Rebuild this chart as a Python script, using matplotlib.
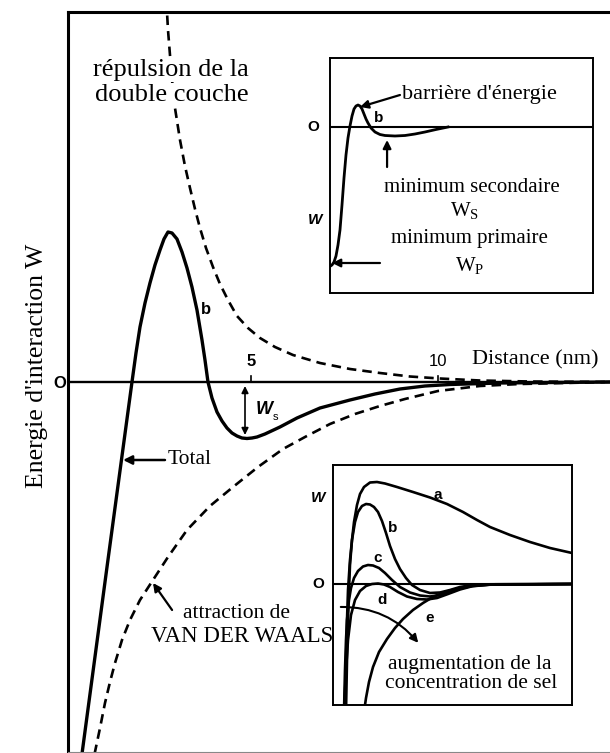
import matplotlib
matplotlib.use('Agg')
import matplotlib.pyplot as plt
from matplotlib.patches import FancyArrowPatch

SERIF = 'Liberation Serif'
SANS = 'Liberation Sans'

# Main chart: distance in nm, energy in arbitrary units
total_x = [0.47, 1.150, 1.818, 1.925, 2.032, 2.166, 2.299, 2.433, 2.567, 2.674, 2.781, 2.888,
           3.021, 3.155, 3.289, 3.422, 3.556, 3.690, 3.770, 3.850, 3.957, 4.091, 4.225, 4.358,
           4.492, 4.626, 4.759, 4.893, 5.027, 5.160, 5.374, 5.775, 6.230, 6.845, 7.647, 8.316,
           8.984, 9.652, 10.32, 11.66, 14.6]
total_y = [-37.5, -18.5, 0.0, 2.9, 5.5, 7.9, 9.9, 11.7, 13.2, 14.3, 15.0, 14.9,
           14.3, 13.0, 11.4, 9.5, 7.2, 4.2, 2.2, 0.0, -1.6, -3.0, -3.9, -4.6,
           -5.1, -5.4, -5.6, -5.65, -5.6, -5.5, -5.2, -4.5, -3.6, -2.6, -1.8, -1.2,
           -0.7, -0.4, -0.25, -0.1, 0.0]

rep_x = [2.727, 2.754, 2.781, 2.834, 2.888, 2.968, 3.102, 3.235, 3.369, 3.503, 3.636, 3.797,
         3.984, 4.171, 4.385, 4.626, 4.920, 5.241, 5.642, 6.123, 6.845, 7.647, 8.449, 9.251,
         10.05, 11.12, 12.46, 14.6]
rep_y = [38.2, 37.0, 35.2, 32.7, 30.2, 27.4, 24.2, 21.6, 19.4, 17.3, 15.4, 13.4,
         11.5, 9.8, 8.2, 6.6, 5.4, 4.4, 3.5, 2.7, 1.9, 1.3, 0.9, 0.55,
         0.35, 0.15, 0.05, 0.0]

vdw_x = [0.80, 0.963, 1.096, 1.230, 1.364, 1.551, 1.765, 2.032, 2.380, 2.781, 3.289, 3.904,
         4.519, 5.187, 5.856, 6.444, 7.112, 7.781, 8.449, 9.118, 10.0, 11.12, 12.19, 14.6]
vdw_y = [-37.5, -34.6, -32.1, -30.0, -28.1, -25.8, -23.8, -21.8, -19.8, -17.5, -14.8, -12.4,
         -10.5, -8.5, -6.7, -5.5, -4.2, -3.2, -2.4, -1.7, -0.9, -0.4, -0.2, 0.0]

ticks = [5, 10]
tick_labels = ['5', '10']

# Upper inset: curve b
ins1_x = [0.02, 0.076, 0.152, 0.228, 0.304, 0.380, 0.456, 0.532, 0.608, 0.684, 0.760, 0.837,
          0.913, 0.989, 1.065, 1.141, 1.217, 1.293, 1.369, 1.445, 1.559, 1.711, 1.901, 2.091,
          2.471, 2.852, 3.232, 3.612, 4.030, 4.487]
ins1_y = [-13.9, -13.8, -13.5, -12.9, -11.8, -10.3, -7.8, -5.1, -2.8, -1.1, 0.1, 1.1,
          1.8, 2.1, 2.2, 2.1, 1.8, 1.3, 0.8, 0.4, -0.1, -0.5, -0.75, -0.85,
          -0.9, -0.85, -0.7, -0.5, -0.25, 0.0]

# Lower inset: curves a..e
a_x = [0.544, 0.586, 0.628, 0.669, 0.711, 0.795, 0.879, 1.004, 1.130, 1.297, 1.548, 1.841,
       2.176, 2.678, 3.347, 4.059, 4.770, 5.439, 6.025, 6.569, 7.406, 8.243, 9.079, 10.0]
a_y = [-12.8, -7.6, -3.6, -0.6, 1.9, 4.4, 6.2, 7.9, 9.0, 9.7, 10.15, 10.2,
       10.05, 9.7, 9.2, 8.65, 8.0, 7.2, 6.4, 5.7, 4.9, 4.2, 3.6, 3.1]
b_x = [0.502, 0.544, 0.586, 0.628, 0.711, 0.795, 0.921, 1.046, 1.213, 1.381, 1.548, 1.715,
       1.883, 2.050, 2.218, 2.385, 2.594, 2.803, 3.054, 3.305, 3.640, 4.059, 4.477, 4.895,
       5.314, 5.816, 6.569, 10.0]
b_y = [-12.8, -7.6, -3.6, -0.6, 2.4, 4.4, 6.2, 7.2, 7.8, 8.0, 7.95, 7.7,
       7.2, 6.3, 5.1, 3.8, 2.5, 1.5, 0.6, -0.1, -0.6, -0.9, -0.85, -0.6,
       -0.3, -0.1, -0.03, 0.0]
c_x = [0.460, 0.502, 0.544, 0.586, 0.669, 0.753, 0.879, 1.046, 1.255, 1.464, 1.674, 1.925,
       2.176, 2.469, 2.803, 3.222, 3.640, 4.059, 4.477, 4.895, 5.397, 5.941, 6.778, 10.0]
c_y = [-12.8, -8.6, -5.6, -3.6, -1.6, -0.4, 0.6, 1.3, 1.75, 1.9, 1.85, 1.6,
       1.1, 0.4, -0.3, -0.85, -1.15, -1.25, -1.1, -0.8, -0.4, -0.13, -0.03, 0.0]
d_x = [0.460, 0.544, 0.628, 0.753, 0.921, 1.130, 1.381, 1.632, 1.883, 2.134, 2.385, 2.720,
       3.096, 3.515, 3.933, 4.351, 4.812, 5.314, 5.816, 6.569, 10.0]
d_y = [-12.8, -8.6, -5.6, -3.1, -1.6, -0.7, -0.2, 0.0, 0.05, -0.05, -0.3, -0.8,
       -1.25, -1.5, -1.55, -1.4, -1.0, -0.55, -0.23, -0.06, 0.0]
e_x = [1.297, 1.381, 1.506, 1.674, 1.925, 2.259, 2.594, 2.929, 3.347, 3.766, 4.184, 4.686,
       5.230, 5.816, 6.569, 10.0]
e_y = [-12.8, -11.4, -9.8, -8.3, -6.8, -5.5, -4.4, -3.5, -2.6, -1.9, -1.3, -0.8,
       -0.45, -0.2, -0.07, 0.0]

W, H = 610, 753
fig = plt.figure(figsize=(W / 100, H / 100), dpi=100)

# ---- main axes
ax = fig.add_axes([68 / W, 1 - 752 / H, 542 / W, 740 / H])
ax.set_xlim(0.107, 14.6)
ax.set_ylim(-37, 37)
ax.set_xticks([])
ax.set_yticks([])
ax.spines['right'].set_visible(False)
for s in ['left', 'top']:
    ax.spines[s].set_linewidth(2.2)
ax.spines['bottom'].set_linewidth(0.8)
ax.spines['bottom'].set_color('#888888')

dash = (3.6, 2.3)
ax.axhline(0, color='black', lw=1.7)
ax.plot(total_x, total_y, color='black', lw=2.4, solid_joinstyle='round')
ax.plot(rep_x, rep_y, color='black', lw=1.9, dashes=dash)
ax.plot(vdw_x, vdw_y, color='black', lw=1.9, dashes=dash)

for t, lab in zip(ticks, tick_labels):
    ax.plot([t, t], [0, 0.6], color='black', lw=1.2)
    ax.text(t, 2.0, lab, ha='center', va='center', fontsize=12,
            family=SANS, weight='bold' if lab == '5' else 'normal')
ax.text(10.9, 2.2, 'Distance (nm)', ha='left', va='center', fontsize=16, family=SERIF)
ax.text(-0.12, -0.2, 'O', ha='center', va='center', fontsize=12, family=SANS, weight='bold')
ax.text(-0.72, 1.6, "Energie d'interaction W", rotation=90, ha='center', va='center',
        fontsize=18.5, family=SERIF)

ax.text(2.86, 31.2, 'répulsion de la', ha='center', va='center', fontsize=19, family=SERIF,
        bbox=dict(facecolor='white', edgecolor='none', pad=1))
ax.text(2.89, 28.7, 'double couche', ha='center', va='center', fontsize=19, family=SERIF,
        bbox=dict(facecolor='white', edgecolor='none', pad=1))
ax.text(3.80, 7.2, 'b', ha='center', va='center', fontsize=12, family=SANS, weight='bold')

ax.annotate('', xy=(4.84, -5.3), xytext=(4.84, -0.4),
            arrowprops=dict(arrowstyle='<|-|>', color='black', lw=1.2,
                            mutation_scale=10, shrinkA=0, shrinkB=0))
ax.text(5.13, -2.8, 'W', ha='left', va='center', fontsize=13, family=SANS,
        style='italic', weight='bold')
ax.text(5.58, -3.5, 's', ha='left', va='center', fontsize=8, family=SANS)

ax.annotate('', xy=(1.58, -7.8), xytext=(2.70, -7.8),
            arrowprops=dict(arrowstyle='-|>', color='black', lw=1.8,
                            mutation_scale=13, shrinkA=0, shrinkB=0))
ax.text(2.78, -7.8, 'Total', ha='left', va='center', fontsize=15.5, family=SERIF)

ax.annotate('', xy=(2.38, -20.1), xytext=(2.89, -22.8),
            arrowprops=dict(arrowstyle='-|>', color='black', lw=1.6,
                            mutation_scale=12, shrinkA=0, shrinkB=0))
ax.text(4.6, -23.1, 'attraction de', ha='center', va='center', fontsize=15.5, family=SERIF)
ax.text(4.76, -25.5, 'VAN DER WAALS', ha='center', va='center', fontsize=16.5, family=SERIF)

# ---- upper inset
ax1 = fig.add_axes([330 / W, 1 - 293 / H, 263 / W, 235 / H])
ax1.set_xlim(0, 10)
ax1.set_ylim(-16.6, 6.9)
ax1.set_xticks([])
ax1.set_yticks([])
for s in ax1.spines.values():
    s.set_linewidth(1.4)
ax1.axhline(0, color='black', lw=1.5)
ax1.plot(ins1_x, ins1_y, color='black', lw=2.0)
ax1.text(-0.65, 0, 'O', ha='center', va='center', fontsize=11, family=SANS,
         weight='bold', clip_on=False)
ax1.text(-0.57, -9.3, 'W', ha='center', va='center', fontsize=11, family=SANS,
         style='italic', weight='bold', clip_on=False)
ax1.text(1.83, 0.9, 'b', ha='center', va='center', fontsize=11, family=SANS, weight='bold')
ax1.annotate('', xy=(1.14, 2.0), xytext=(2.66, 3.2),
             arrowprops=dict(arrowstyle='-|>', color='black', lw=1.6,
                             mutation_scale=12, shrinkA=0, shrinkB=0))
ax1.text(2.74, 3.2, "barrière d'énergie", ha='left', va='center', fontsize=16, family=SERIF)
ax1.annotate('', xy=(2.17, -1.3), xytext=(2.17, -4.0),
             arrowprops=dict(arrowstyle='-|>', color='black', lw=1.6,
                             mutation_scale=12, shrinkA=0, shrinkB=0))
ax1.text(5.38, -6.1, 'minimum secondaire', ha='center', va='center', fontsize=15, family=SERIF)
ax1.text(5.13, -8.4, r'W$_\mathregular{S}$', ha='center', va='center', fontsize=15, family=SERIF)
ax1.text(5.29, -11.2, 'minimum primaire', ha='center', va='center', fontsize=15, family=SERIF)
ax1.text(5.32, -13.9, r'W$_\mathregular{P}$', ha='center', va='center', fontsize=15, family=SERIF)
ax1.annotate('', xy=(0.08, -13.6), xytext=(1.90, -13.6),
             arrowprops=dict(arrowstyle='-|>', color='black', lw=1.6,
                             mutation_scale=12, shrinkA=0, shrinkB=0))

# ---- lower inset
ax2 = fig.add_axes([333 / W, 1 - 705 / H, 239 / W, 240 / H])
ax2.set_xlim(0, 10)
ax2.set_ylim(-12.1, 11.9)
ax2.set_xticks([])
ax2.set_yticks([])
for s in ax2.spines.values():
    s.set_linewidth(1.4)
ax2.axhline(0, color='black', lw=1.5)
for xs, ys in [(a_x, a_y), (b_x, b_y), (c_x, c_y), (d_x, d_y), (e_x, e_y)]:
    ax2.plot(xs, ys, color='black', lw=1.9)
for lab, lx, ly in [('a', 4.39, 8.9), ('b', 2.51, 5.6), ('c', 1.88, 2.6),
                    ('d', 2.05, -1.6), ('e', 4.06, -3.4)]:
    ax2.text(lx, ly, lab, ha='center', va='center', fontsize=11, family=SANS, weight='bold')
ax2.text(-0.63, 0, 'O', ha='center', va='center', fontsize=11, family=SANS,
         weight='bold', clip_on=False)
ax2.text(-0.63, 8.6, 'W', ha='center', va='center', fontsize=11, family=SANS,
         style='italic', weight='bold', clip_on=False)
ax2.add_patch(FancyArrowPatch((0.21, -2.3), (3.64, -6.1), connectionstyle='arc3,rad=-0.25',
                              arrowstyle='-|>', mutation_scale=12, color='black', lw=1.5))
ax2.text(2.30, -8.0, 'augmentation de la', ha='left', va='center', fontsize=15.5, family=SERIF)
ax2.text(2.18, -10.0, 'concentration de sel', ha='left', va='center', fontsize=15.5, family=SERIF)

fig.savefig('out.png', dpi=100)
